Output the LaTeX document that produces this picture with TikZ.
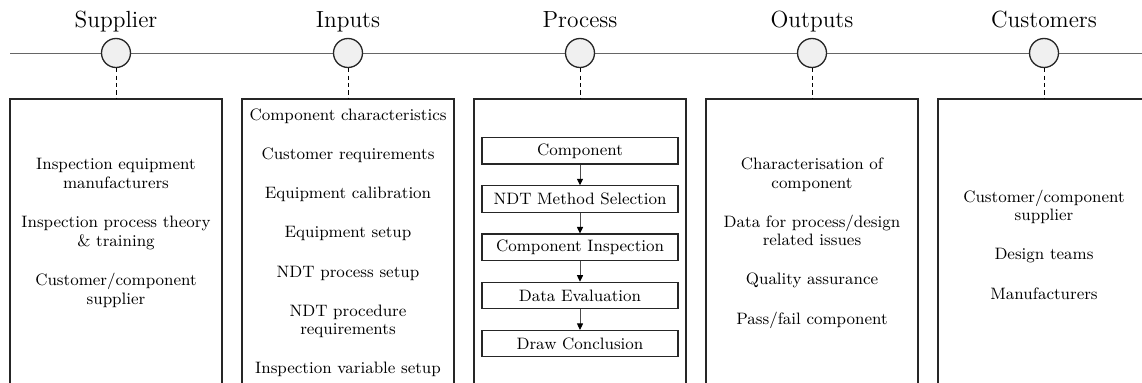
\documentclass[tikz,border=0pt]{standalone}
\usetikzlibrary{positioning,arrows.meta}

\tikzset{
  stage/.style={circle,draw=black!85,line width=0.75pt,fill=black!6,minimum size=0.58cm,inner sep=0pt},
  stagelabel/.style={anchor=base,font=\fontsize{13.3}{16}\selectfont},
  panel/.style={draw=black!85,line width=0.75pt,minimum width=4.24cm,minimum height=6.18cm,inner sep=0pt},
  items/.style={align=center,font=\fontsize{9.4}{10.6}\selectfont},
  stepbox/.style={draw=black!85,line width=0.7pt,minimum width=3.92cm,minimum height=0.526cm,inner sep=0pt,font=\fontsize{9.4}{10.6}\selectfont},
  flow/.style={draw=black!70,line width=0.5pt,-{Triangle[length=1.3mm,width=1.2mm,black]}}
}

\begin{document}
\begin{tikzpicture}
\useasboundingbox (0,0) rectangle (22.84,7.66);
\clip (0,0) rectangle (22.84,7.66);

% time line
\draw[black!60,line width=0.5pt] (0.2,6.6) coordinate (lstart) -- (22.84,6.6) coordinate (lend);

\node[stage] (sup) at (2.32,6.6) {};
\node[stage] (inp) at (6.96,6.6) {};
\node[stage] (pro) at (11.6,6.6) {};
\node[stage] (out) at (16.24,6.6) {};
\node[stage] (cus) at (20.88,6.6) {};

\node[stagelabel] (suplabel) at (2.32,7.1) {Supplier};
\node[stagelabel] (inplabel) at (6.96,7.1) {Inputs};
\node[stagelabel] (prolabel) at (11.6,7.1) {Process};
\node[stagelabel] (outlabel) at (16.24,7.1) {Outputs};
\node[stagelabel] (cuslabel) at (20.88,7.1) {Customers};

% panels
\node[panel] (supbox) at (2.32,2.59) {};
\node[panel] (inpbox) at (6.96,2.59) {};
\node[panel] (probox) at (11.6,2.59) {};
\node[panel] (outbox) at (16.24,2.59) {};
\node[panel] (cusbox) at (20.88,2.59) {};

\foreach \s in {sup,inp,pro,out,cus}
    \draw[dash pattern=on 2.4pt off 1.8pt,line width=0.55pt] (\s.south) -- (\s box.north);

% panel texts
\node[items] (suptext) at (2.32,3.0) {Inspection equipment\\ manufacturers\\[0.41cm]
  Inspection process theory\\ \& training\\[0.41cm] Customer/component\\ supplier};
\node[items] (inptext) at (6.96,2.8) {Component characteristics\\[0.41cm] Customer requirements\\[0.41cm]
  Equipment calibration\\[0.41cm] Equipment setup\\[0.41cm] NDT process setup\\[0.41cm]
  NDT procedure\\ requirements\\[0.41cm] Inspection variable setup};
\node[items] (outtext) at (16.24,2.8) {Characterisation of\\ component\\[0.41cm]
  Data for process/design\\ related issues\\[0.41cm] Quality assurance\\[0.41cm] Pass/fail component};
\node[items] (custext) at (20.88,2.77) {Customer/component\\ supplier\\[0.41cm]
  Design teams\\[0.41cm] Manufacturers};

% process steps
\node[stepbox] (comp) at (11.6,4.644) {Component};
\node[stepbox,below=0.414cm of comp] (sel) {NDT Method Selection};
\node[stepbox,below=0.414cm of sel] (insp) {Component Inspection};
\node[stepbox,below=0.414cm of insp] (eval) {Data Evaluation};
\node[stepbox,below=0.414cm of eval] (concl) {Draw Conclusion};

\draw[flow] (comp) -- (sel);
\draw[flow] (sel) -- (insp);
\draw[flow] (insp) -- (eval);
\draw[flow] (eval) -- (concl);

\end{tikzpicture}
\end{document}
